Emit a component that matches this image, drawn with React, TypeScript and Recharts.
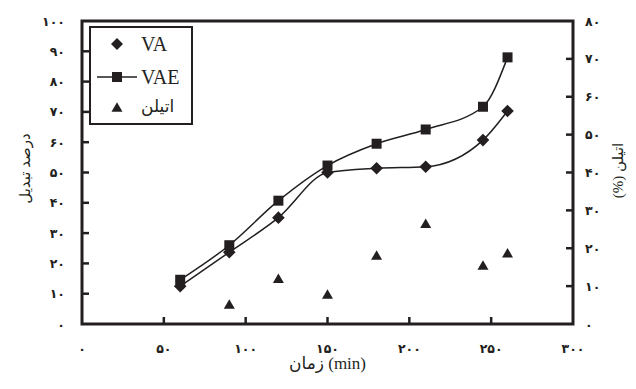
import React from 'react';
import { ComposedChart, Line, XAxis, YAxis, ReferenceArea, Legend } from 'recharts';

// ---- data ----
const times = [60, 90, 120, 150, 180, 210, 245, 260];
const vaValues = [12.5, 23.7, 35.1, 50, 51.4, 51.9, 60.7, 70.3];
const vaeValues = [14.6, 26, 40.7, 52.3, 59.5, 64.2, 71.7, 88];
const ethyleneValues: (number | null)[] = [null, 5.3, 12.1, 7.9, 18.2, 26.6, 15.6, 18.8];

const xTicks = [0, 50, 100, 150, 200, 250, 300];
const leftTicks = [0, 10, 20, 30, 40, 50, 60, 70, 80, 90, 100];
const rightTicks = [0, 10, 20, 30, 40, 50, 60, 70, 80];

const seriesNames = ['VA', 'VAE', 'اتیلن'];
const xTitle = 'زمان (min)';
const leftTitle = 'درصد تبدیل';
const rightTitle = '(%) اتیلن';

const tableData = times.map((t, i) => ({
  t,
  va: vaValues[i],
  vae: vaeValues[i],
  eth: ethyleneValues[i],
}));

// ---- style ----
const INK = '#231f20';
const DIGIT_FONT = '"DejaVu Sans", sans-serif';
const TEXT_FONT = '"Liberation Serif", "DejaVu Sans", serif';
const LEFT_MARGIN = 17;
const RIGHT_MARGIN = 12;
const TICK_LEN = 7;
const DIGIT_SIZE = 12.5;

const fa = (n: number) => String(n).replace(/\d/g, (d) => '۰۱۲۳۴۵۶۷۸۹'[+d]);

const Diamond = ({ cx, cy, r = 6.3 }: any) => (
  <polygon points={`${cx},${cy - r} ${cx + r},${cy} ${cx},${cy + r} ${cx - r},${cy}`} fill={INK} />
);
const Square = ({ cx, cy, s = 10 }: any) => (
  <rect x={cx - s / 2} y={cy - s / 2} width={s} height={s} fill={INK} />
);
const Triangle = ({ cx, cy, w = 11, h = 9.5 }: any) => (
  <polygon points={`${cx},${cy - h / 2} ${cx + w / 2},${cy + h / 2} ${cx - w / 2},${cy + h / 2}`} fill={INK} />
);

const dotOf = (Shape: any) => (props: any) => {
  const { cx, cy, index, value } = props;
  if (cx == null || cy == null || value == null) return <g key={`d${index}`} />;
  return <Shape key={`d${index}`} cx={cx} cy={cy} />;
};

const digitText = (x: number, y: number, anchor: any, v: number) => (
  <text x={x} y={y} dy={4.5} textAnchor={anchor} fontFamily={DIGIT_FONT} fontWeight="bold" fontSize={DIGIT_SIZE} fill={INK}>
    {fa(v)}
  </text>
);

const LeftTick = (props: any) => {
  const { x, y, payload } = props;
  const v = payload.value;
  const ax = x + LEFT_MARGIN;
  return (
    <g>
      {v !== leftTicks[0] && v !== leftTicks[leftTicks.length - 1] && (
        <line x1={ax} x2={ax + TICK_LEN} y1={y} y2={y} stroke={INK} strokeWidth={2.5} />
      )}
      {digitText(x, y, 'end', v)}
    </g>
  );
};

const RightTick = (props: any) => {
  const { x, y, payload } = props;
  const v = payload.value;
  const ax = x - RIGHT_MARGIN;
  return (
    <g>
      {v !== rightTicks[0] && v !== rightTicks[rightTicks.length - 1] && (
        <line x1={ax} x2={ax - TICK_LEN} y1={y} y2={y} stroke={INK} strokeWidth={2.5} />
      )}
      {digitText(x, y, 'start', v)}
    </g>
  );
};

const BottomTick = (props: any) => {
  const { x, y, payload } = props;
  const v = payload.value;
  return (
    <g>
      {v !== xTicks[0] && v !== xTicks[xTicks.length - 1] && (
        <line x1={x} x2={x} y1={y} y2={y - TICK_LEN} stroke={INK} strokeWidth={2.5} />
      )}
      {digitText(x, y + 24, 'middle', v)}
    </g>
  );
};

const XTitle = ({ viewBox }: any) => {
  const cx = viewBox.x + viewBox.width / 2;
  return (
    <text x={cx} y={viewBox.y + 39} dy={6} textAnchor="middle" fontFamily={TEXT_FONT} fontSize={17} fill={INK}>
      {xTitle}
    </text>
  );
};

const LeftTitle = ({ viewBox }: any) => {
  const cx = viewBox.x + 25;
  const cy = viewBox.y + viewBox.height / 2 - 4;
  return (
    <text x={cx} y={cy} dy={5} transform={`rotate(-90, ${cx}, ${cy})`} textAnchor="middle" fontFamily={TEXT_FONT} fontSize={15} fill={INK}>
      {leftTitle}
    </text>
  );
};

const RightTitle = ({ viewBox }: any) => {
  const cx = viewBox.x + 45;
  const cy = viewBox.y + viewBox.height / 2 - 2;
  return (
    <text x={cx} y={cy} dy={5} transform={`rotate(-90, ${cx}, ${cy})`} textAnchor="middle" fontFamily={TEXT_FONT} fontSize={15} fill={INK}>
      {rightTitle}
    </text>
  );
};

const LegendBox = () => {
  const rows = [16, 49, 79];
  return (
    <div
      style={{
        width: 104,
        height: 99,
        boxSizing: 'border-box',
        border: `2.5px solid ${INK}`,
        background: '#fff',
        position: 'relative',
      }}
    >
      {seriesNames.map((name, i) => (
        <div key={name} style={{ position: 'absolute', left: 0, top: rows[i] - 14, height: 28, width: 100 }}>
          <svg width={46} height={28} style={{ position: 'absolute', left: 4, top: 0 }}>
            {i === 1 && <line x1={2} x2={42} y1={14} y2={14} stroke={INK} strokeWidth={1.5} />}
            {i === 0 && <Diamond cx={22} cy={14} r={6} />}
            {i === 1 && <Square cx={22} cy={14} />}
            {i === 2 && <Triangle cx={22} cy={14} />}
          </svg>
          <span
            style={{
              position: 'absolute',
              left: 50,
              top: 0,
              lineHeight: '28px',
              fontFamily: TEXT_FONT,
              fontSize: i === 2 ? 17 : 20,
              color: INK,
              whiteSpace: 'nowrap',
            }}
          >
            {name}
          </span>
        </div>
      ))}
    </div>
  );
};

export default function App() {
  return (
    <div style={{ position: 'absolute', left: 0, top: 0, width: 636, height: 389, background: '#fff' }}>
      <ComposedChart width={636} height={389} data={tableData} margin={{ top: 21, right: 0, bottom: 0, left: 0 }}>
        <XAxis
          type="number"
          dataKey="t"
          domain={[0, 300]}
          ticks={xTicks}
          interval={0}
          height={65}
          axisLine={false}
          tickLine={false}
          tickSize={0}
          tickMargin={0}
          tick={<BottomTick />}
          label={<XTitle />}
        />
        <YAxis
          yAxisId="left"
          domain={[0, 100]}
          ticks={leftTicks}
          interval={0}
          width={82}
          axisLine={false}
          tickLine={false}
          tickSize={0}
          tickMargin={LEFT_MARGIN}
          tick={<LeftTick />}
          label={<LeftTitle />}
        />
        <YAxis
          yAxisId="right"
          orientation="right"
          domain={[0, 80]}
          ticks={rightTicks}
          interval={0}
          width={63}
          axisLine={false}
          tickLine={false}
          tickSize={0}
          tickMargin={RIGHT_MARGIN}
          tick={<RightTick />}
          label={<RightTitle />}
        />
        <ReferenceArea
          yAxisId="left"
          x1={0}
          x2={300}
          y1={0}
          y2={100}
          fill="none"
          fillOpacity={0}
          stroke={INK}
          strokeWidth={3}
        />
        <Line
          yAxisId="left"
          dataKey="va"
          name={seriesNames[0]}
          type="monotone"
          stroke={INK}
          strokeWidth={1.5}
          dot={dotOf(Diamond)}
          isAnimationActive={false}
        />
        <Line
          yAxisId="left"
          dataKey="vae"
          name={seriesNames[1]}
          type="monotone"
          stroke={INK}
          strokeWidth={1.5}
          dot={dotOf(Square)}
          isAnimationActive={false}
        />
        <Line
          yAxisId="right"
          dataKey="eth"
          name={seriesNames[2]}
          stroke="none"
          dot={dotOf(Triangle)}
          isAnimationActive={false}
        />
        <Legend
          layout="vertical"
          align="center"
          verticalAlign="middle"
          content={<LegendBox />}
          wrapperStyle={{ position: 'absolute', left: 89, top: 26, width: 104, height: 99 }}
        />
      </ComposedChart>
    </div>
  );
}
